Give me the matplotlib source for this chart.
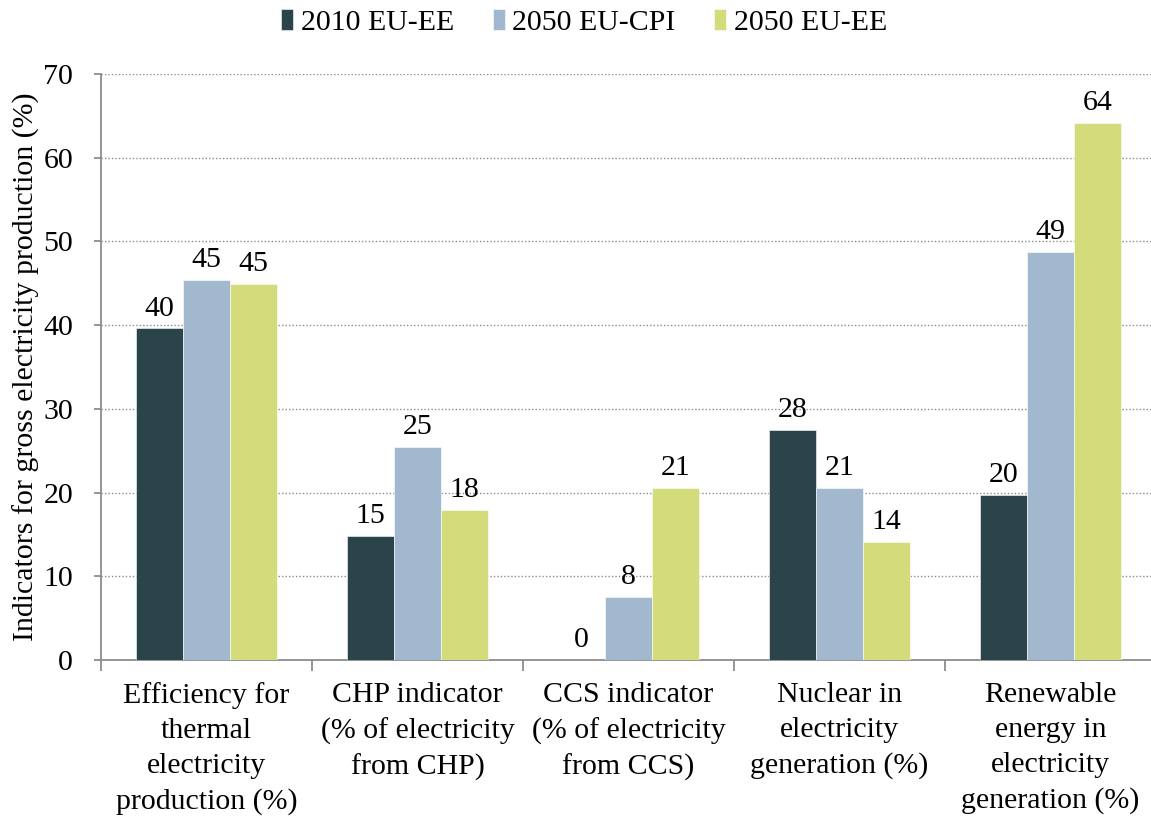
import matplotlib
matplotlib.use("Agg")
import matplotlib.pyplot as plt
import numpy as np

plt.rcParams['font.family'] = ['Liberation Serif', 'DejaVu Serif']

categorias = ["Efficiency for\nthermal\nelectricity\nproduction (%)",
              "CHP indicator\n(% of electricity\nfrom CHP)",
              "CCS indicator\n(% of electricity\nfrom CCS)",
              "Nuclear in\nelectricity\ngeneration (%)",
              "Renewable\nenergy in\nelectricity\ngeneration (%)"]
series = ["2010 EU-EE", "2050 EU-CPI", "2050 EU-EE"]
eu_ee_2010 = [39.6, 14.8, 0.0, 27.5, 19.7]
eu_cpi_2050 = [45.4, 25.4, 7.5, 20.5, 48.7]
eu_ee_2050 = [44.9, 17.9, 20.5, 14.1, 64.2]
etiquetas = [["40", "15", "0", "28", "20"],
             ["45", "25", "8", "21", "49"],
             ["45", "18", "21", "14", "64"]]
colores = ["#2B444A", "#A2B8CE", "#D4DB7B"]

gris = "#8C8C8C"
fs = 21.5

fig = plt.figure(figsize=(11.51, 8.16), dpi=100)
ax = fig.add_axes([101/1151, 156/816, 1055/1151, 586/816])

x = np.arange(len(categorias))
ancho = 0.222
valores = [eu_ee_2010, eu_cpi_2050, eu_ee_2050]
for i in range(3):
    pos = x + (i - 1) * ancho
    barras = ax.bar(pos, valores[i], ancho, color=colores[i], label=series[i],
                    edgecolor="white", linewidth=0.4, zorder=3)
    for b, t in zip(barras, etiquetas[i]):
        ax.annotate(t, (b.get_x() + b.get_width() / 2, b.get_height()),
                    xytext=(0, 5), textcoords="offset points",
                    ha="center", va="bottom", fontsize=fs, zorder=4)

ax.set_ylim(0, 70)
ax.set_xlim(-0.5, 4.5)
ax.set_yticks(range(0, 71, 10))
ax.yaxis.grid(True, linestyle=(0, (1, 1.5)), color=gris, linewidth=1, zorder=0)
ax.set_axisbelow(True)

ax.set_xticks(x)
ax.set_xticklabels(categorias, fontsize=fs, linespacing=1.44)
ax.set_xticks(np.arange(-0.5, 4.6, 1), minor=True)
ax.tick_params(axis="x", which="major", length=0, pad=16)
ax.tick_params(axis="x", which="minor", length=8, color=gris, width=1.3, direction="out")
ax.tick_params(axis="y", length=5, color=gris, width=1.3, direction="out",
               pad=15, labelsize=fs)

for s in ["top", "right"]:
    ax.spines[s].set_visible(False)
for s in ["left", "bottom"]:
    ax.spines[s].set_color(gris)
    ax.spines[s].set_linewidth(1.3)

ax.set_ylabel("Indicators for gross electricity production (%)", fontsize=fs)
ax.yaxis.set_label_coords(-0.058, 0.5)

fig.legend(loc="upper center", bbox_to_anchor=(584/1151, 1.022), ncol=3,
           frameon=False, fontsize=fs, handlelength=0.4, handleheight=0.7,
           handletextpad=0.25, columnspacing=1.3)

fig.savefig("out.png", dpi=100)
